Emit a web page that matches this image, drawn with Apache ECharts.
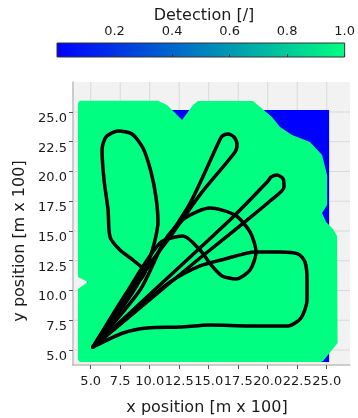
<!DOCTYPE html>
<html>
<head>
<meta charset="utf-8">
<script src="https://cdn.jsdelivr.net/npm/echarts@6/dist/echarts.min.js"></script>
<style>html,body{margin:0;padding:0;background:#fff;}#c{width:358px;height:418px;}</style>
</head>
<body>
<div id="c"></div>
<script>
// ---- data ----
var xTicks = [5.0, 7.5, 10.0, 12.5, 15.0, 17.5, 20.0, 22.5, 25.0];
var yTicks = [5.0, 7.5, 10.0, 12.5, 15.0, 17.5, 20.0, 22.5, 25.0];
var cbTicks = [0.2, 0.4, 0.6, 0.8, 1.0];
var cbRange = [0, 1];

// detection = 0 region (blue, underneath)
var blueRegion = [[4.7, 4.0], [25.2, 4.0], [25.2, 25.17], [4.7, 25.17]];
var blueValue = 0.0;
// detection = 1 region (green coverage)
var greenRegion = [
  [4.09, 25.95], [10.70, 25.95], [11.47, 25.59], [12.74, 24.33], [13.67, 25.59], [14.09, 25.92],
  [18.75, 25.92], [20.36, 24.58], [21.04, 23.74], [22.06, 23.07], [23.58, 22.48], [24.60, 21.39],
  [25.03, 19.71], [25.03, 17.18], [24.60, 16.51], [24.94, 15.76], [25.53, 15.17], [25.87, 14.58],
  [25.92, 5.59], [24.69, 4.08], [24.50, 4.0], [4.09, 4.0], [3.92, 4.16], [3.92, 10.13],
  [4.77, 10.71], [3.92, 11.13], [3.92, 25.76]
];
var greenValue = 1.0;

// trajectory loops (all start and end at the launch point)
var loopBlob = [
  [5.19, 5.25], [7.31, 8.36], [9.01, 10.63], [9.60, 11.55], [8.58, 12.56], [7.48, 13.40],
  [6.64, 14.50], [6.47, 16.76], [6.13, 19.29], [5.96, 21.81], [6.30, 22.90], [7.31, 23.40],
  [8.50, 23.15], [9.43, 21.97], [10.11, 19.96], [10.53, 17.86], [10.70, 15.76], [10.45, 14.24],
  [9.94, 12.56], [9.18, 10.88], [7.65, 8.53], [5.19, 5.25]
];
var loopFingerA = [
  [5.19, 5.25], [10.3, 12.6], [13.4, 17.3], [15.89, 22.56], [16.13, 22.98], [16.64, 23.15],
  [17.14, 22.90], [17.40, 22.31], [17.23, 21.64], [14.3, 18.1], [11.72, 14.50], [8.33, 10.04], [5.19, 5.25]
];
var loopFingerB = [
  [5.19, 5.25], [11.13, 10.71], [17.06, 16.18], [20.03, 19.20], [20.28, 19.54], [20.79, 19.71],
  [21.30, 19.37], [21.38, 18.70], [20.19, 17.52], [18.25, 15.92], [14.26, 12.73], [9.6, 8.9], [5.19, 5.25]
];
var loopCircle = [
  [5.19, 5.25], [9.18, 10.04], [11.30, 14.24], [12.99, 16.09], [15.11, 16.93], [17.23, 16.34],
  [18.50, 14.92], [19.01, 13.24], [18.50, 11.72], [17.31, 10.97], [16.13, 11.22], [15.28, 12.06],
  [14.26, 13.40], [12.82, 14.58], [10.87, 13.99], [7.91, 9.62], [5.19, 5.25]
];
var loopBig = [
  [5.19, 5.25], [7.74, 6.43], [9.77, 6.85], [12.57, 6.93], [15.11, 7.10], [18.50, 7.02],
  [21.72, 7.02], [22.82, 7.69], [23.33, 9.20], [23.33, 10.88], [23.16, 12.39], [22.57, 13.07],
  [21.04, 13.24], [18.92, 13.24], [16.38, 12.65], [14.26, 12.06], [11.72, 10.71], [9.18, 8.61], [5.19, 5.25]
];

// ---- chart ----
var FONT = 'DejaVu Sans';
var cmap = ['#0000ff', '#00ff80'];
function mapColor(v) {
  var t = (v - cbRange[0]) / (cbRange[1] - cbRange[0]);
  var g = Math.round(255 * t), b = Math.round(255 * (1 - 0.5 * t));
  return 'rgb(0,' + g + ',' + b + ')';
}
var X_MIN = 3.5, X_MAX = 26.97, Y_MIN = 3.74, Y_MAX = 27.52;

function polySeries(points, value, z) {
  return {
    type: 'custom', xAxisIndex: 0, yAxisIndex: 0, z: z, silent: true,
    data: [[value]],
    renderItem: function (params, api) {
      return {
        type: 'polygon',
        shape: { points: points.map(function (p) { return api.coord(p); }) },
        style: { fill: mapColor(value), stroke: null }
      };
    }
  };
}
function lineSeries(pts) {
  return {
    type: 'line', xAxisIndex: 0, yAxisIndex: 0, z: 5, data: pts, showSymbol: false,
    smooth: 0.25, silent: true,
    lineStyle: { color: '#000', width: 3.5, join: 'round', cap: 'round' }
  };
}

var chart = echarts.init(document.getElementById('c'), null, { renderer: 'canvas' });
var labelStyle = { fontFamily: FONT, fontSize: 13, color: '#1a1a1a' };
chart.setOption({
  animation: false,
  backgroundColor: '#ffffff',
  grid: [
    { left: 73, right: 8, top: 82, bottom: 53, show: true, backgroundColor: '#f2f2f2', borderWidth: 0 },
    { left: 57, width: 291, top: 43, height: 14, show: true, borderColor: '#333', borderWidth: 1,
      backgroundColor: { type: 'linear', x: 0, y: 0, x2: 1, y2: 0,
        colorStops: [{ offset: 0, color: cmap[0] }, { offset: 1, color: cmap[1] }] } }
  ],
  xAxis: [
    { type: 'value', gridIndex: 0, min: X_MIN, max: X_MAX,
      axisLine: { show: true, onZero: false, lineStyle: { color: '#bdbdbd', width: 1.5 } },
      axisTick: { show: true, length: 4, customValues: xTicks, lineStyle: { color: '#555' } },
      axisLabel: Object.assign({ customValues: xTicks, margin: 10, formatter: function (v) { return v.toFixed(1); } }, labelStyle),
      splitLine: { show: false } },
    { type: 'value', gridIndex: 1, min: cbRange[0], max: cbRange[1], position: 'top',
      axisLine: { show: false },
      axisTick: { show: true, length: 3, customValues: cbTicks, lineStyle: { color: '#333' } },
      axisLabel: Object.assign({ customValues: cbTicks, margin: 5, formatter: function (v) { return v.toFixed(1); } }, labelStyle),
      splitLine: { show: false } }
  ],
  yAxis: [
    { type: 'value', gridIndex: 0, min: Y_MIN, max: Y_MAX,
      axisLine: { show: true, onZero: false, lineStyle: { color: '#bdbdbd', width: 1.5 } },
      axisTick: { show: true, length: 4, customValues: yTicks, lineStyle: { color: '#555' } },
      axisLabel: Object.assign({ customValues: yTicks, margin: 6, verticalAlign: 'top', formatter: function (v) { return v.toFixed(1); } }, labelStyle),
      splitLine: { show: false } },
    { type: 'value', gridIndex: 1, min: 0, max: 1, show: false }
  ],
  graphic: [
    { type: 'text', x: 204, y: 16, style: { text: 'Detection [/]', font: '16px "DejaVu Sans"', fill: '#1a1a1a', textAlign: 'center', textVerticalAlign: 'middle' } },
    { type: 'text', x: 207, y: 408, style: { text: 'x position [m x 100]', font: '16px "DejaVu Sans"', fill: '#1a1a1a', textAlign: 'center', textVerticalAlign: 'middle' } },
    { type: 'text', x: 20, y: 241, rotation: Math.PI / 2, style: { text: 'y position [m x 100]', font: '16px "DejaVu Sans"', fill: '#1a1a1a', textAlign: 'center', textVerticalAlign: 'middle' } }
  ],
  series: [
    { type: 'custom', xAxisIndex: 0, yAxisIndex: 0, z: 1, silent: true, data: [[0]],
      renderItem: function (params, api) {
        var children = [];
        xTicks.forEach(function (v) {
          var a = api.coord([v, Y_MIN]), b = api.coord([v, Y_MAX]);
          children.push({ type: 'line', shape: { x1: a[0], y1: a[1], x2: b[0], y2: b[1] }, style: { stroke: '#d9d9d9', lineWidth: 1 } });
        });
        yTicks.forEach(function (v) {
          var a = api.coord([X_MIN, v]), b = api.coord([X_MAX, v]);
          children.push({ type: 'line', shape: { x1: a[0], y1: a[1], x2: b[0], y2: b[1] }, style: { stroke: '#d9d9d9', lineWidth: 1 } });
        });
        return { type: 'group', children: children };
      } },
    polySeries(blueRegion, blueValue, 2),
    polySeries(greenRegion, greenValue, 3),
    lineSeries(loopBlob),
    lineSeries(loopFingerA),
    lineSeries(loopFingerB),
    lineSeries(loopCircle),
    lineSeries(loopBig)
  ]
});
</script>
</body>
</html>
